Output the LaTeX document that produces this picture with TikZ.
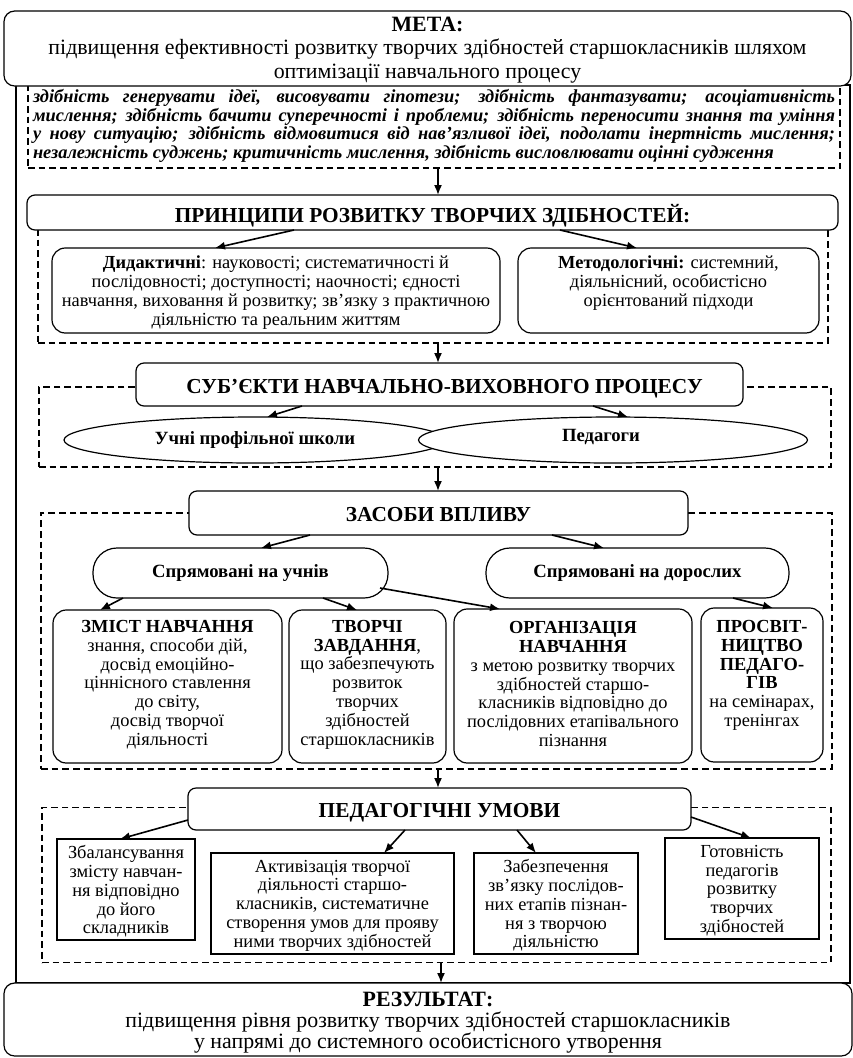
\documentclass[tikz,border=0pt]{standalone}
\usepackage{fontspec}
\setmainfont{Liberation Serif}
\usetikzlibrary{arrows.meta,shapes.geometric,calc}
\begin{document}
\begin{tikzpicture}[x=0.75pt,y=-0.75pt,
  sz/.style 2 args={minimum width=#1*0.75pt, minimum height=#2*0.75pt},
  base/.style={inner sep=0pt, outer sep=0pt, align=center, line width=0.9pt},
  rbox/.style={base, draw, fill=white, rounded corners=6pt},
  mbox/.style={base, draw, fill=white, rounded corners=10pt},
  sbox/.style={base, draw, fill=white},
  dbox/.style={base, draw, dash pattern=on 5pt off 3pt},
  ell/.style={base, draw, ellipse, fill=white},
  oval/.style={base, draw, fill=white, rounded corners=18pt},
  arr/.style={line width=1.2pt, -{Latex[length=7.5pt,width=6pt]}},
  hd/.style={base, font=\fontsize{16}{18}\selectfont\bfseries},
  meta/.style={base, font=\fontsize{16.4}{17.6}\selectfont},
  res/.style={base, font=\fontsize{16.4}{15.6}\selectfont},
  body/.style={base, font=\fontsize{13.8}{14.1}\selectfont},
  lab/.style={base, font=\fontsize{14}{16}\selectfont\bfseries},
  ital/.style={base, font=\fontsize{13.8}{14}\selectfont\bfseries\itshape},
]
\useasboundingbox (0,0) rectangle (853,1058);
\coordinate (ax) at (438,0);
\coordinate (ax2) at (441,0);

% outer frame
\draw[line width=0.9pt] (16,85) rectangle (850,983);

% dashed groups
\node[dbox, sz={812}{83}] (d1) at (434,126.5) {};
\node[dbox, sz={790}{131}] (d2) at (433,277.5) {};
\node[dbox, sz={792}{80}] (d3) at (435,427) {};
\node[dbox, sz={791}{256}] (d4) at (436.5,641) {};
\node[dbox, sz={789}{155}] (d5) at (436.5,885) {};

% goal
\node[rbox, sz={847}{75}, rounded corners=8pt] (goal) at (427.5,48.5) {};
\node[meta] (goalT) at ($(goal.center)+(0,1.5)$)
  {\textbf{МЕТА:}\\ підвищення ефективності розвитку творчих здібностей старшокласників шляхом\\ оптимізації навчального процесу};

% italic abilities text
\node[ital, align=left] (abil) at (434,126)
  {\makebox[601.5pt][s]{здібність генерувати ідеї, висовувати гіпотези; здібність фантазувати; асоціативність}\\
   \makebox[601.5pt][s]{мислення; здібність бачити суперечності і проблеми; здібність переносити знання та уміння}\\
   \makebox[601.5pt][s]{у нову ситуацію; здібність відмовитися від нав’язливої ідеї, подолати інертність мислення;}\\
   \makebox[601.5pt][l]{незалежність суджень; критичність мислення, здібність висловлювати оцінні судження}};

% principles
\node[rbox, sz={811}{35}] (prin) at (432.5,212.5) {};
\node[hd] (prinT) at ($(prin.center)+(0,3)$) {ПРИНЦИПИ РОЗВИТКУ ТВОРЧИХ ЗДІБНОСТЕЙ:};
\node[mbox, sz={448}{85}] (did) at (276,290.5) {};
\node[body] (didT) at ($(did.center)+(0,2)$)
  {\textbf{Дидактичні}: науковості; систематичності й\\ послідовності; доступності; наочності; єдності\\ навчання, виховання й розвитку; зв’язку з практичною\\ діяльністю та реальним життям};
\node[mbox, sz={301}{85}] (meth) at (668.5,290.5) {};
\node[body, anchor=north] (methT) at ($(didT.north -| meth.center)$)
  {\textbf{Методологічні:} системний,\\ діяльнісний, особистісно\\ орієнтований підходи};

% subjects
\node[rbox, sz={607}{43}] (subj) at (439.5,384.5) {};
\node[hd] (subjT) at ($(subj.center)+(5,4)$) {СУБ’ЄКТИ НАВЧАЛЬНО-ВИХОВНОГО ПРОЦЕСУ};
\node[ell, lab, sz={382}{46}] (eL) at (255,440) {Учні профільної школи};
\node[ell, sz={389}{46}] (eR) at (613,440) {};
\node[lab] (eRT) at ($(eR.center)+(-12,-3)$) {Педагоги};

% means
\node[rbox, sz={499}{44}] (zas) at (438.5,513) {};
\node[hd] (zasT) at ($(zas.center)+(0,2)$) {ЗАСОБИ ВПЛИВУ};
\node[oval, lab, sz={295}{50}] (oL) at (240.5,573) {Спрямовані на учнів};
\node[oval, lab, sz={303}{50}] (oR) at (637.5,573) {Спрямовані на дорослих};
\node[mbox, sz={229}{153}] (zm) at (167.5,686.5) {};
\node[body] (zmT) at ($(zm.center)+(0,-2)$)
  {\textbf{ЗМІСТ НАВЧАННЯ}\\ знання, способи дій,\\ досвід емоційно-\\ ціннісного ставлення\\ до світу,\\ досвід творчої\\ діяльності};
\node[mbox, sz={157}{153}] (tv) at (367.5,686.5) {};
\node[body] (tvT) at ($(tv.center)+(0,-2)$)
  {\textbf{ТВОРЧІ}\\ \textbf{ЗАВДАННЯ},\\ що забезпечують\\ розвиток\\ творчих\\ здібностей\\ старшокласників};
\node[mbox, sz={238}{154}] (org) at (573,686) {};
\node[body] (orgT) at ($(org.center)+(0,-2)$)
  {\textbf{ОРГАНІЗАЦІЯ}\\ \textbf{НАВЧАННЯ}\\ з метою розвитку творчих\\ здібностей старшо-\\ класників відповідно до\\ послідовних етапівального\\ пізнання};
\node[mbox, sz={122}{154}] (pr) at (762,685) {};
\node[body, anchor=north] (prT) at (zmT.north -| pr.center)
  {\textbf{ПРОСВІТ-}\\ \textbf{НИЦТВО}\\ \textbf{ПЕДАГО-}\\ \textbf{ГІВ}\\ на семінарах,\\ тренінгах};

% conditions
\node[rbox, sz={503}{42}] (ped) at (439.5,809) {};
\node[hd] (pedT) at ($(ped.center)+(0,4)$) {ПЕДАГОГІЧНІ УМОВИ};
\node[sbox, sz={138}{101}] (c1) at (126,889.5) {};
\node[body] (c1T) at ($(c1.center)+(0,2)$)
  {Збалансування\\ змісту навчан-\\ ня відповідно\\ до його\\ складників};
\node[sbox, sz={243}{101}] (c2) at (332.5,903.5) {};
\node[body] (c2T) at ($(c2.center)+(0,2)$)
  {Активізація творчої\\ діяльності старшо-\\ класників, систематичне\\ створення умов для прояву\\ ними творчих здібностей};
\node[sbox, sz={164}{101}] (c3) at (556,903.5) {};
\node[body] (c3T) at ($(c3.center)+(0,2)$)
  {Забезпечення\\ зв’язку послідов-\\ них етапів пізнан-\\ ня з творчою\\ діяльністю};
\node[sbox, sz={154}{101}] (c4) at (742,888.5) {};
\node[body] (c4T) at ($(c4.center)+(0,2)$)
  {Готовність\\ педагогів\\ розвитку\\ творчих\\ здібностей};

% result
\node[rbox, sz={848}{73}, rounded corners=8pt] (res) at (428,1019.5) {};
\node[res] (resT) at ($(res.center)+(0,3)$)
  {\textbf{РЕЗУЛЬТАТ:}\\ підвищення рівня розвитку творчих здібностей старшокласників\\ у напрямі до системного особистісного утворення};

% vertical arrows
\draw[arr] (d1.south -| ax) -- (prin.north -| ax);
\draw[arr] (d2.south -| ax) -- (subj.north -| ax);
\draw[arr] (d3.south -| ax) -- (zas.north -| ax);
\draw[arr] (d4.south -| ax) -- (ped.north -| ax);
\draw[arr] (d5.south -| ax2) -- (res.north -| ax2);

% principles arrows
\draw[arr] ($(prin.south)+(-138.5,0)$) -- ($(did.north)+(-61,0)$);
\draw[arr] ($(prin.south)+(127.5,0)$) -- ($(meth.north)+(-31.5,0)$);

% subjects arrows
\draw[arr] ($(subj.south)+(-137.5,0)$) -- ($(eL.north)+(12,0)$);
\draw[arr] ($(subj.south)+(153.5,0)$) -- ($(eR.north)+(15,0)$);

% means arrows
\draw[arr] ($(zas.south)+(-128.5,0)$) -- ($(oL.north)+(20.5,0)$);
\draw[arr] ($(zas.south)+(113.5,0)$) -- ($(oR.north)+(-33.5,0)$);
\draw[arr] ($(oL.south)+(-117.5,0)$) -- ($(zm.north)+(-67.5,0)$);
\draw[arr] ($(oL.south)+(82.5,0)$) -- ($(tv.north)+(-10.5,0)$);
\draw[arr] ($(oL.east)+(-8,15)$) -- ($(org.north)+(-73,0)$);
\draw[arr] ($(oR.south)+(95.5,0)$) -- ($(pr.north)+(11,0)$);

% conditions arrows
\draw[arr] ($(ped.west)+(0,11)$) -- ($(c1.north)+(-6,0)$);
\draw[arr] ($(ped.south)+(-34.5,0)$) -- ($(c2.north)+(51.5,0)$);
\draw[arr] ($(ped.south)+(77.5,0)$) -- ($(c3.north)+(-20,0)$);
\draw[arr] ($(ped.east)+(0,8)$) -- ($(c4.north)+(9,0)$);
\end{tikzpicture}
\end{document}
